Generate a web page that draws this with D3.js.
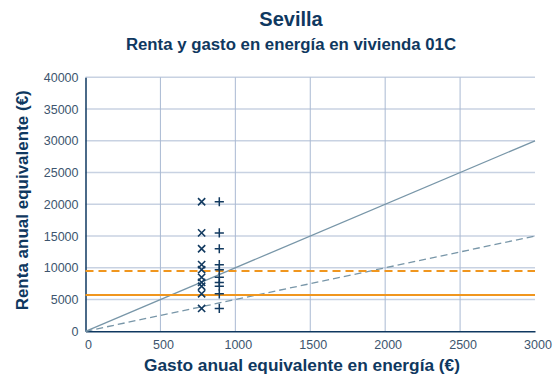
<!DOCTYPE html>
<html>
<head>
<meta charset="utf-8">
<script src="https://cdn.jsdelivr.net/npm/d3@7"></script>
<style>
  html, body { margin: 0; padding: 0; background: #fff; }
  svg { display: block; font-family: "Liberation Sans", Arial, sans-serif; }
</style>
</head>
<body>
<svg id="chart" width="556" height="376"></svg>
<script>
// Household income (renta) for the dwelling 01C cases
const rentaValues = [20400, 15500, 13000, 10500, 9700, 8500, 7700, 7100, 5900, 3600];
// Annual energy expense for the two scenarios
const gastoCross = 775;
const gastoPlus = 893;
// Reference thresholds on income
const umbralSolido = 5700;
const umbralDiscontinuo = 9500;
// Ratio lines: renta = ratio * gasto
const ratioSolido = 10;
const ratioDiscontinuo = 5;

const xTicks = [0, 500, 1000, 1500, 2000, 2500, 3000];
const yTicks = [0, 5000, 10000, 15000, 20000, 25000, 30000, 35000, 40000];

const navy = "#0f3860";
const tickColor = "#3d556e";
const gridColor = "#c8d2e2";
const vgridColor = "#a9b9d2";
const diagColor = "#7896a8";
const orange = "#f0961e";

const svg = d3.select("#chart");
const m = { left: 85.5, right: 535, top: 77.3, bottom: 331.3 };

const x = d3.scaleLinear().domain([0, 3000]).range([m.left, m.right]);
const y = d3.scaleLinear().domain([0, 40000]).range([m.bottom, m.top]);

// Titles
svg.append("text").attr("x", 291).attr("y", 26).attr("text-anchor", "middle")
  .attr("font-size", 20).attr("font-weight", "bold").attr("fill", navy).text("Sevilla");
svg.append("text").attr("x", 291).attr("y", 50).attr("text-anchor", "middle")
  .attr("font-size", 16.8).attr("font-weight", "bold").attr("fill", navy)
  .text("Renta y gasto en energía en vivienda 01C");

// Horizontal grid
svg.append("g").selectAll("line").data(yTicks.filter(d => d > 0)).join("line")
  .attr("x1", m.left).attr("x2", m.right)
  .attr("y1", d => y(d)).attr("y2", d => y(d))
  .attr("stroke", gridColor).attr("stroke-width", 1.6);

// Vertical grid
svg.append("g").selectAll("line").data(xTicks.filter(d => d > 0 && d < 3000)).join("line")
  .attr("x1", d => x(d)).attr("x2", d => x(d))
  .attr("y1", m.top).attr("y2", m.bottom)
  .attr("stroke", vgridColor).attr("stroke-width", 1);

// Axes
const xAxis = svg.append("g").attr("transform", `translate(0,${m.bottom})`)
  .call(d3.axisBottom(x).tickValues(xTicks).tickSize(0).tickPadding(9).tickFormat(d3.format("d")));
xAxis.select(".domain").attr("stroke", navy).attr("stroke-width", 1.5);
xAxis.selectAll("text").attr("font-size", 12.5).attr("fill", tickColor).attr("dx", 2.5)
  .attr("font-family", "Liberation Sans, Arial, sans-serif");

const yAxis = svg.append("g").attr("transform", `translate(${m.left},0)`)
  .call(d3.axisLeft(y).tickValues(yTicks).tickSize(0).tickPadding(7).tickFormat(d3.format("d")));
yAxis.select(".domain").attr("stroke", navy).attr("stroke-width", 1.5);
yAxis.selectAll("text").attr("font-size", 12.5).attr("fill", tickColor)
  .attr("font-family", "Liberation Sans, Arial, sans-serif");

// Ratio lines
const line = d3.line().x(d => x(d[0])).y(d => y(d[1]));
svg.append("path").datum([[0, 0], [3000, 3000 * ratioSolido]]).attr("d", line)
  .attr("fill", "none").attr("stroke", diagColor).attr("stroke-width", 1.3);
svg.append("path").datum([[0, 0], [3000, 3000 * ratioDiscontinuo]]).attr("d", line)
  .attr("fill", "none").attr("stroke", diagColor).attr("stroke-width", 1.3)
  .attr("stroke-dasharray", "7,4");

// Income thresholds
svg.append("line").attr("x1", x(0)).attr("x2", x(3000))
  .attr("y1", y(umbralSolido)).attr("y2", y(umbralSolido))
  .attr("stroke", orange).attr("stroke-width", 2);
svg.append("line").attr("x1", x(0)).attr("x2", x(3000))
  .attr("y1", y(umbralDiscontinuo)).attr("y2", y(umbralDiscontinuo))
  .attr("stroke", orange).attr("stroke-width", 2).attr("stroke-dasharray", "8,5");

// Markers
const markerColor = "#123a60";
const s = 3.6;
svg.append("g").selectAll("path").data(rentaValues).join("path")
  .attr("d", d => `M${x(gastoCross) - s},${y(d) - s}L${x(gastoCross) + s},${y(d) + s}M${x(gastoCross) - s},${y(d) + s}L${x(gastoCross) + s},${y(d) - s}`)
  .attr("stroke", markerColor).attr("stroke-width", 1.6).attr("fill", "none");
const p = 4.6;
svg.append("g").selectAll("path").data(rentaValues).join("path")
  .attr("d", d => `M${x(gastoPlus) - p},${y(d)}L${x(gastoPlus) + p},${y(d)}M${x(gastoPlus)},${y(d) - p}L${x(gastoPlus)},${y(d) + p}`)
  .attr("stroke", markerColor).attr("stroke-width", 1.5).attr("fill", "none");

// Axis titles
svg.append("text").attr("x", 302).attr("y", 371).attr("text-anchor", "middle")
  .attr("font-size", 17.3).attr("font-weight", "bold").attr("fill", navy)
  .text("Gasto anual equivalente en energía (€)");
svg.append("text").attr("transform", `translate(28,${(m.top + m.bottom) / 2 - 4}) rotate(-90)`)
  .attr("text-anchor", "middle")
  .attr("font-size", 17).attr("font-weight", "bold").attr("fill", navy)
  .text("Renta anual equivalente (€)");
</script>
</body>
</html>
